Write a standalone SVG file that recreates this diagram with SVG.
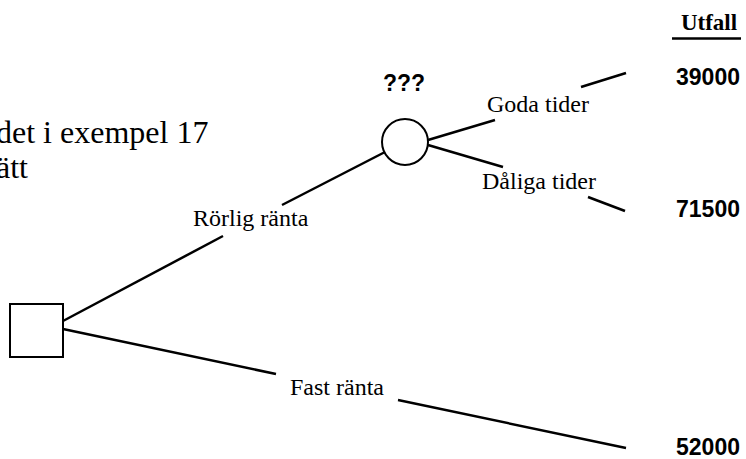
<svg xmlns="http://www.w3.org/2000/svg" width="746" height="459" viewBox="0 0 746 459">
<style>
.ser{font-family:"Liberation Serif","Times New Roman",serif;fill:#000}
.lbl{font-size:24px}
.big{font-size:32px}
.num{font-family:"Liberation Sans",Arial,sans-serif;font-weight:bold;font-size:23px;fill:#000}
.edge{stroke:#000;stroke-width:2.5;fill:none;stroke-linecap:butt}
.node{stroke:#000;stroke-width:2;fill:#fff}
</style>
<rect width="746" height="459" fill="#fff"/>
<g id="intro">
<text class="ser big" x="-4" y="143">det i exempel 17</text>
<text class="ser big" x="-4" y="178">ätt</text>
</g>
<g id="connectors">
<line class="edge" x1="63" y1="321" x2="223" y2="236"/>
<line class="edge" x1="282" y1="205" x2="385" y2="152"/>
<line class="edge" x1="428" y1="140" x2="495" y2="120"/>
<line class="edge" x1="581" y1="87" x2="626" y2="73"/>
<line class="edge" x1="428" y1="145" x2="503" y2="167"/>
<line class="edge" x1="588" y1="197" x2="625" y2="211"/>
<line class="edge" x1="63" y1="329" x2="276" y2="374"/>
<line class="edge" x1="398" y1="400" x2="626" y2="448"/>
</g>
<g id="decision">
<rect class="node" x="10" y="304" width="53" height="53"/>
</g>
<g id="chance">
<circle class="node" cx="405" cy="142" r="23"/>
<text class="num" x="404" y="91" text-anchor="middle" font-size="22">???</text>
</g>
<g id="labels">
<text class="ser lbl" x="193" y="226">Rörlig ränta</text>
<text class="ser lbl" x="487" y="112">Goda tider</text>
<text class="ser lbl" x="482" y="189">Dåliga tider</text>
<text class="ser lbl" x="290" y="395">Fast ränta</text>
</g>
<g id="outcomes">
<text class="ser" x="709" y="30" text-anchor="middle" font-size="23" font-weight="bold">Utfall</text>
<line x1="672" y1="38.5" x2="741" y2="38.5" stroke="#000" stroke-width="2.5"/>
<text class="num" x="740" y="85" text-anchor="end">39000</text>
<text class="num" x="740" y="217" text-anchor="end">71500</text>
<text class="num" x="740" y="455" text-anchor="end">52000</text>
</g>
</svg>
